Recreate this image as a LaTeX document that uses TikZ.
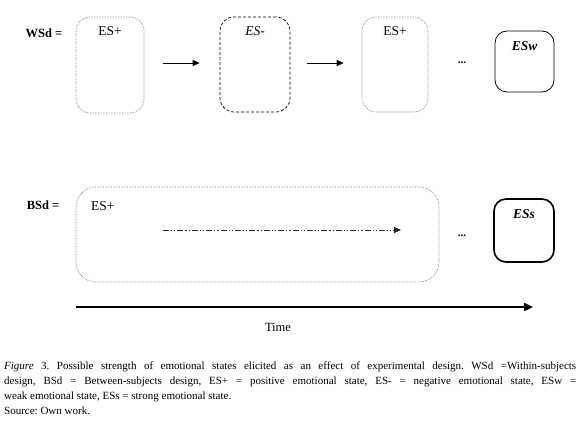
\documentclass[tikz,border=0pt]{standalone}
\usepackage{fontspec}
\setmainfont{Liberation Serif}
\usetikzlibrary{positioning,arrows.meta}
\tikzset{
  state/.style={rectangle, rounded corners=14pt, draw=black!60, densely dotted,
                line width=0.6pt, inner sep=0pt},
  negstate/.style={rectangle, rounded corners=14pt, draw=black, dashed,
                   dash pattern=on 3pt off 2pt, line width=0.7pt, inner sep=0pt},
  endstate/.style={rectangle, rounded corners=12pt, draw=black, line width=0.8pt,
                   inner sep=0pt},
  strongstate/.style={endstate, line width=1.6pt},
  toplbl/.style={anchor=north, font=\fontsize{13.5}{15}\selectfont, inner sep=0pt},
  rowlbl/.style={font=\fontsize{12.5}{14}\selectfont\bfseries, inner sep=0pt},
  flow/.style={-{Stealth[length=7pt,width=6pt,inset=0pt]}, draw=black, line width=0.8pt},
  flowdd/.style={-{Stealth[length=7pt,width=6pt,inset=0pt]}, draw=black!85, line width=0.9pt,
                 dash pattern=on 6pt off 2pt on 1.2pt off 2pt on 1.2pt off 2pt},
  timeflow/.style={-{Stealth[length=9pt,width=8pt,inset=0pt]}, draw=black, line width=2.4pt},
  dots/.style={font=\fontsize{11}{13}\selectfont\bfseries, inner sep=0pt},
}

\begin{document}
\begin{tikzpicture}[x=1pt, y=-1pt]
  \useasboundingbox (0,0) rectangle (580,435);

  % --- within-subjects row ------------------------------------------------
  \node[rowlbl] (wsd) at (44,33) {WSd =};
  \node[state, minimum width=68pt, minimum height=96pt,
        label={[toplbl, yshift=-10pt]north:ES+}] (pos1) at (110,65) {};
  \node[negstate, minimum width=70pt, minimum height=95pt,
        label={[toplbl, yshift=-10pt]north:\itshape ES-}] (neg) at (255,64.5) {};
  \node[state, minimum width=66pt, minimum height=95pt,
        label={[toplbl, yshift=-10pt]north:ES+}] (pos2) at (395,64.5) {};
  \node[dots] (wdots) at (462,63) {...};
  \node[endstate, minimum width=59pt, minimum height=61pt,
        label={[toplbl, yshift=-11pt]north:\bfseries\itshape ESw}] (esw) at (524.5,61.5) {};

  \draw[flow, shorten <=19pt, shorten >=20pt] (pos1.east |- 0,63) -- (neg.west |- 0,63);
  \draw[flow, shorten <=17pt, shorten >=18pt] (neg.east |- 0,63) -- (pos2.west |- 0,63);

  % --- between-subjects row -----------------------------------------------
  \node[rowlbl] (bsd) at (43,205) {BSd =};
  \node[state, rounded corners=20pt, minimum width=363pt, minimum height=95pt] (bpos) at (257.5,234.5) {};
  \node[toplbl, anchor=north west] (bposlbl) at (91,201) {ES+};
  \coordinate (ddfrom) at (163,230);
  \coordinate (ddto) at (401,230);
  \node[dots] (bdots) at (462,236) {...};
  \node[strongstate, minimum width=60pt, minimum height=63pt,
        label={[toplbl, yshift=-11pt]north:\bfseries\itshape ESs}] (ess) at (524,230.5) {};

  \draw[flowdd] (ddfrom) -- (ddto);

  % --- time axis ----------------------------------------------------------
  \coordinate (t0) at (76,307);
  \coordinate (t1) at (533,307);
  \draw[timeflow] (t0) -- (t1);
  \node[font=\fontsize{12.5}{14}\selectfont, inner sep=0pt] (time) at (278,327) {Time};

  % --- caption ------------------------------------------------------------
  \node[anchor=north west, text width=572pt, align=justify, inner sep=0pt,
        font=\fontsize{11}{15}\selectfont\frenchspacing] (caption) at (4,362)
    {\textit{Figure} 3. Possible strength of emotional states elicited as an effect of experimental design. WSd =Within-subjects\linebreak
     design, BSd = Between-subjects design, ES+ = positive emotional state, ES- = negative emotional state, ESw =\linebreak
     weak emotional state, ESs = strong emotional state.\par
     \raggedright Source: Own work.};
\end{tikzpicture}
\end{document}
